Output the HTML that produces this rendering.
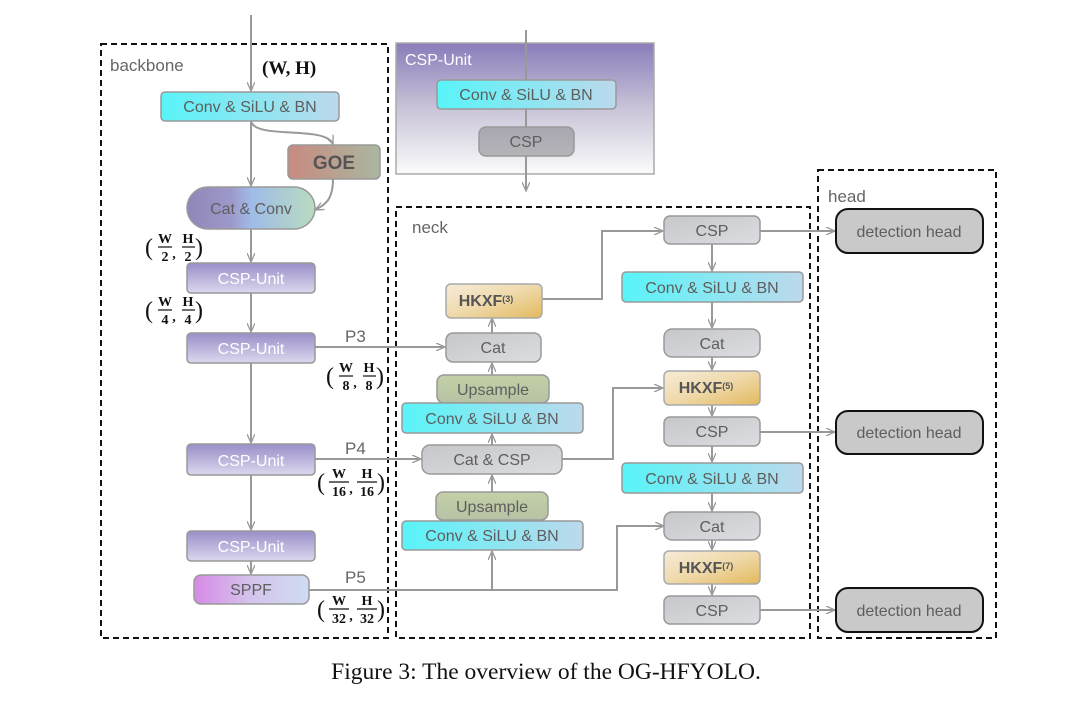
<!DOCTYPE html>
<html><head><meta charset="utf-8"><style>
html,body{margin:0;padding:0;background:#fff;}
svg{display:block;}
text{font-family:"Liberation Sans",sans-serif;}
.t{font-size:16px;fill:#5e5e5e;text-anchor:middle;}
.w{font-size:16px;fill:#fff;text-anchor:middle;}
.lbl{font-size:17px;fill:#666;}
.f{font-family:"Liberation Serif",serif;font-weight:bold;font-size:14px;fill:#111;text-anchor:middle;}
.fp{font-family:"Liberation Serif",serif;font-size:24px;fill:#111;}
</style></head><body>
<svg width="1080" height="712" viewBox="0 0 1080 712" xmlns="http://www.w3.org/2000/svg">
<defs>
<linearGradient id="cy" x1="0" x2="1"><stop offset="0" stop-color="#58f4f8"/><stop offset="1" stop-color="#bcd9ec"/></linearGradient>
<linearGradient id="pu" x1="0" y1="0" x2="0" y2="1"><stop offset="0" stop-color="#9a8ec8"/><stop offset="1" stop-color="#dcd8ee"/></linearGradient>
<linearGradient id="gr" x1="0" y1="0" x2="1" y2="1"><stop offset="0" stop-color="#c6c7ca"/><stop offset="1" stop-color="#dcdde0"/></linearGradient>
<linearGradient id="hk" x1="0" y1="0" x2="1" y2="1"><stop offset="0" stop-color="#f6ecd8"/><stop offset="0.5" stop-color="#efd9aa"/><stop offset="1" stop-color="#e2b85c"/></linearGradient>
<linearGradient id="up" x1="0" y1="0" x2="0" y2="1"><stop offset="0" stop-color="#c3d0a6"/><stop offset="1" stop-color="#b6c2a4"/></linearGradient>
<linearGradient id="goe" x1="0" x2="1"><stop offset="0" stop-color="#c98a80"/><stop offset="1" stop-color="#a9b7a0"/></linearGradient>
<linearGradient id="cc" x1="0" x2="1"><stop offset="0" stop-color="#8f86b8"/><stop offset="0.35" stop-color="#9d9acb"/><stop offset="0.5" stop-color="#9fbbe8"/><stop offset="1" stop-color="#b8dcc0"/></linearGradient>
<linearGradient id="sp" x1="0" x2="1"><stop offset="0" stop-color="#d78ae6"/><stop offset="0.5" stop-color="#d4c4ec"/><stop offset="1" stop-color="#cfdcf2"/></linearGradient>
<linearGradient id="panel" x1="0" y1="0" x2="0" y2="1"><stop offset="0" stop-color="#8a7cba"/><stop offset="0.5" stop-color="#c9c4d8"/><stop offset="1" stop-color="#fbfbfb"/></linearGradient>
<linearGradient id="pcsp" x1="0" y1="0" x2="0" y2="1"><stop offset="0" stop-color="#a9a7b2"/><stop offset="1" stop-color="#b4b4b8"/></linearGradient>
<marker id="a" markerWidth="10" markerHeight="8" refX="9" refY="4" orient="auto" markerUnits="userSpaceOnUse"><path d="M0,0 L9,4 L0,8" fill="none" stroke="#999" stroke-width="1.3"/></marker>
</defs>

<rect x="101" y="44" width="287" height="594" fill="none" stroke="#111" stroke-width="2" stroke-dasharray="6,4"/>
<rect x="396" y="207" width="414" height="431" fill="none" stroke="#111" stroke-width="2" stroke-dasharray="6,4"/>
<rect x="818" y="170" width="178" height="468" fill="none" stroke="#111" stroke-width="2" stroke-dasharray="6,4"/>
<text x="110" y="71" class="lbl">backbone</text>
<text x="412" y="233" class="lbl">neck</text>
<text x="828" y="202" class="lbl">head</text>

<rect x="396" y="43" width="258" height="131" fill="url(#panel)" stroke="#aaa" stroke-width="1.5"/>
<text x="405" y="65" class="w" style="text-anchor:start">CSP-Unit</text>
<line x1="526" y1="30" x2="526" y2="191" stroke="#999" stroke-width="2" marker-end="url(#a)"/>
<rect x="437" y="80" width="179" height="29" rx="4" fill="url(#cy)" stroke="#999" stroke-width="1.5"/>
<text x="526" y="100" class="t">Conv &amp; SiLU &amp; BN</text>
<rect x="479" y="127" width="95" height="29" rx="7" fill="url(#pcsp)" stroke="#999" stroke-width="1.5"/>
<text x="526" y="147" class="t">CSP</text>

<g stroke="#999" stroke-width="2" fill="none">
<line x1="251" y1="15" x2="251" y2="91" marker-end="url(#a)"/>
<line x1="251" y1="121" x2="251" y2="186" marker-end="url(#a)"/>
<path d="M251,121 C255,140 325,125 333,144" marker-end="url(#a)"/>
<path d="M333,179 C333,200 325,205 315,210" marker-end="url(#a)"/>
<line x1="251" y1="229" x2="251" y2="262" marker-end="url(#a)"/>
<line x1="251" y1="293" x2="251" y2="332" marker-end="url(#a)"/>
<line x1="251" y1="363" x2="251" y2="443" marker-end="url(#a)"/>
<line x1="251" y1="475" x2="251" y2="530" marker-end="url(#a)"/>
<line x1="251" y1="561" x2="251" y2="574" marker-end="url(#a)"/>
<line x1="315" y1="347" x2="445" y2="347" marker-end="url(#a)"/>
<line x1="315" y1="459" x2="421" y2="459" marker-end="url(#a)"/>
<polyline points="309,590 617,590 617,526 664,526" marker-end="url(#a)"/>
<line x1="492" y1="590" x2="492" y2="551" marker-end="url(#a)"/>
<line x1="492" y1="520" x2="492" y2="475" marker-end="url(#a)"/>
<line x1="492" y1="445" x2="492" y2="434" marker-end="url(#a)"/>
<line x1="492" y1="375" x2="492" y2="363" marker-end="url(#a)"/>
<line x1="492" y1="333" x2="492" y2="318" marker-end="url(#a)"/>
<polyline points="542,299 602,299 602,231 663,231" marker-end="url(#a)"/>
<polyline points="562,459 613,459 613,388 663,388" marker-end="url(#a)"/>
<line x1="712" y1="244" x2="712" y2="271" marker-end="url(#a)"/>
<line x1="712" y1="302" x2="712" y2="328" marker-end="url(#a)"/>
<line x1="712" y1="357" x2="712" y2="370" marker-end="url(#a)"/>
<line x1="712" y1="405" x2="712" y2="416" marker-end="url(#a)"/>
<line x1="712" y1="446" x2="712" y2="462" marker-end="url(#a)"/>
<line x1="712" y1="493" x2="712" y2="511" marker-end="url(#a)"/>
<line x1="712" y1="540" x2="712" y2="550" marker-end="url(#a)"/>
<line x1="712" y1="584" x2="712" y2="595" marker-end="url(#a)"/>
<line x1="760" y1="231" x2="835" y2="231" marker-end="url(#a)"/>
<line x1="760" y1="432" x2="835" y2="432" marker-end="url(#a)"/>
<line x1="760" y1="610" x2="835" y2="610" marker-end="url(#a)"/>
</g>

<rect x="161" y="92" width="178" height="29" rx="4" fill="url(#cy)" stroke="#999" stroke-width="1.5"/>
<text x="250" y="112" class="t">Conv &amp; SiLU &amp; BN</text>
<rect x="288" y="145" width="92" height="34" rx="5" fill="url(#goe)" stroke="#999" stroke-width="1.5"/>
<text x="334" y="169" class="t" style="font-weight:bold;font-size:19px;fill:#555">GOE</text>
<rect x="187" y="187" width="128" height="42" rx="21" fill="url(#cc)" stroke="#999" stroke-width="1.5"/>
<text x="251" y="214" class="t">Cat &amp; Conv</text>
<rect x="187" y="263" width="128" height="30" rx="4" fill="url(#pu)" stroke="#999" stroke-width="1.5"/>
<text x="251" y="284" class="w">CSP-Unit</text>
<rect x="187" y="333" width="128" height="30" rx="4" fill="url(#pu)" stroke="#999" stroke-width="1.5"/>
<text x="251" y="354" class="w">CSP-Unit</text>
<rect x="187" y="444" width="128" height="31" rx="4" fill="url(#pu)" stroke="#999" stroke-width="1.5"/>
<text x="251" y="466" class="w">CSP-Unit</text>
<rect x="187" y="531" width="128" height="30" rx="4" fill="url(#pu)" stroke="#999" stroke-width="1.5"/>
<text x="251" y="552" class="w">CSP-Unit</text>
<rect x="194" y="575" width="115" height="29" rx="7" fill="url(#sp)" stroke="#999" stroke-width="1.5"/>
<text x="251" y="595" class="t">SPPF</text>

<text x="345" y="342" class="lbl">P3</text>
<text x="345" y="454" class="lbl">P4</text>
<text x="345" y="583" class="lbl">P5</text>
<text x="262" y="74" style="font-family:'Liberation Serif',serif;font-weight:bold;font-size:19px;fill:#111">(W, H)</text>

<g>
<text x="145" y="255" class="fp">(</text><text x="165" y="243" class="f">W</text><line x1="158" y1="247" x2="172" y2="247" stroke="#111" stroke-width="1.2"/><text x="165" y="261" class="f">2</text><text x="174" y="258" class="f">,</text><text x="188" y="243" class="f">H</text><line x1="182" y1="247" x2="195" y2="247" stroke="#111" stroke-width="1.2"/><text x="188" y="261" class="f">2</text><text x="195" y="255" class="fp">)</text>
</g>
<g transform="translate(0,63)">
<text x="145" y="255" class="fp">(</text><text x="165" y="243" class="f">W</text><line x1="158" y1="247" x2="172" y2="247" stroke="#111" stroke-width="1.2"/><text x="165" y="261" class="f">4</text><text x="174" y="258" class="f">,</text><text x="188" y="243" class="f">H</text><line x1="182" y1="247" x2="195" y2="247" stroke="#111" stroke-width="1.2"/><text x="188" y="261" class="f">4</text><text x="195" y="255" class="fp">)</text>
</g>
<g transform="translate(181,129)">
<text x="145" y="255" class="fp">(</text><text x="165" y="243" class="f">W</text><line x1="158" y1="247" x2="172" y2="247" stroke="#111" stroke-width="1.2"/><text x="165" y="261" class="f">8</text><text x="174" y="258" class="f">,</text><text x="188" y="243" class="f">H</text><line x1="182" y1="247" x2="195" y2="247" stroke="#111" stroke-width="1.2"/><text x="188" y="261" class="f">8</text><text x="195" y="255" class="fp">)</text>
</g>
<g transform="translate(171,235)">
<text x="146" y="255" class="fp">(</text><text x="168" y="243" class="f">W</text><line x1="158" y1="247" x2="178" y2="247" stroke="#111" stroke-width="1.2"/><text x="168" y="261" class="f">16</text><text x="180" y="258" class="f">,</text><text x="196" y="243" class="f">H</text><line x1="186" y1="247" x2="206" y2="247" stroke="#111" stroke-width="1.2"/><text x="196" y="261" class="f">16</text><text x="206" y="255" class="fp">)</text>
</g>
<g transform="translate(171,362)">
<text x="146" y="255" class="fp">(</text><text x="168" y="243" class="f">W</text><line x1="158" y1="247" x2="178" y2="247" stroke="#111" stroke-width="1.2"/><text x="168" y="261" class="f">32</text><text x="180" y="258" class="f">,</text><text x="196" y="243" class="f">H</text><line x1="186" y1="247" x2="206" y2="247" stroke="#111" stroke-width="1.2"/><text x="196" y="261" class="f">32</text><text x="206" y="255" class="fp">)</text>
</g>

<rect x="446" y="284" width="96" height="34" rx="5" fill="url(#hk)" stroke="#aaa" stroke-width="1.5"/>
<text x="486" y="306" style="font-weight:bold;font-size:16px;fill:#555;text-anchor:middle">HKXF<tspan font-size="9" dy="-4">(3)</tspan></text>
<rect x="446" y="333" width="95" height="29" rx="7" fill="url(#gr)" stroke="#999" stroke-width="1.5"/>
<text x="493" y="353" class="t">Cat</text>
<rect x="437" y="375" width="112" height="28" rx="7" fill="url(#up)" stroke="#999" stroke-width="1.5"/>
<text x="493" y="395" class="t">Upsample</text>
<rect x="402" y="403" width="181" height="30" rx="4" fill="url(#cy)" stroke="#999" stroke-width="1.5"/>
<text x="492" y="424" class="t">Conv &amp; SiLU &amp; BN</text>
<rect x="422" y="445" width="140" height="29" rx="8" fill="url(#gr)" stroke="#999" stroke-width="1.5"/>
<text x="492" y="465" class="t">Cat &amp; CSP</text>
<rect x="436" y="492" width="112" height="28" rx="7" fill="url(#up)" stroke="#999" stroke-width="1.5"/>
<text x="492" y="512" class="t">Upsample</text>
<rect x="402" y="521" width="181" height="29" rx="4" fill="url(#cy)" stroke="#999" stroke-width="1.5"/>
<text x="492" y="541" class="t">Conv &amp; SiLU &amp; BN</text>

<rect x="664" y="216" width="96" height="28" rx="6" fill="url(#gr)" stroke="#999" stroke-width="1.5"/>
<text x="712" y="236" class="t">CSP</text>
<rect x="622" y="272" width="181" height="30" rx="4" fill="url(#cy)" stroke="#999" stroke-width="1.5"/>
<text x="712" y="293" class="t">Conv &amp; SiLU &amp; BN</text>
<rect x="664" y="329" width="96" height="28" rx="8" fill="url(#gr)" stroke="#999" stroke-width="1.5"/>
<text x="712" y="349" class="t">Cat</text>
<rect x="664" y="371" width="96" height="34" rx="5" fill="url(#hk)" stroke="#aaa" stroke-width="1.5"/>
<text x="706" y="393" style="font-weight:bold;font-size:16px;fill:#555;text-anchor:middle">HKXF<tspan font-size="9" dy="-4">(5)</tspan></text>
<rect x="664" y="417" width="96" height="29" rx="6" fill="url(#gr)" stroke="#999" stroke-width="1.5"/>
<text x="712" y="437" class="t">CSP</text>
<rect x="622" y="463" width="181" height="30" rx="4" fill="url(#cy)" stroke="#999" stroke-width="1.5"/>
<text x="712" y="484" class="t">Conv &amp; SiLU &amp; BN</text>
<rect x="664" y="512" width="96" height="28" rx="8" fill="url(#gr)" stroke="#999" stroke-width="1.5"/>
<text x="712" y="532" class="t">Cat</text>
<rect x="664" y="551" width="96" height="33" rx="5" fill="url(#hk)" stroke="#aaa" stroke-width="1.5"/>
<text x="706" y="573" style="font-weight:bold;font-size:16px;fill:#555;text-anchor:middle">HKXF<tspan font-size="9" dy="-4">(7)</tspan></text>
<rect x="664" y="596" width="96" height="28" rx="6" fill="url(#gr)" stroke="#999" stroke-width="1.5"/>
<text x="712" y="616" class="t">CSP</text>

<rect x="836" y="209" width="147" height="44" rx="12" fill="#c9c9c9" stroke="#111" stroke-width="2"/>
<text x="909" y="237" class="t">detection head</text>
<rect x="836" y="411" width="147" height="43" rx="12" fill="#c9c9c9" stroke="#111" stroke-width="2"/>
<text x="909" y="438" class="t">detection head</text>
<rect x="836" y="588" width="147" height="44" rx="12" fill="#c9c9c9" stroke="#111" stroke-width="2"/>
<text x="909" y="616" class="t">detection head</text>

<text x="546" y="679" style="font-family:'Liberation Serif',serif;font-size:23.5px;fill:#111;text-anchor:middle">Figure 3: The overview of the OG-HFYOLO.</text>
</svg>
</body></html>
